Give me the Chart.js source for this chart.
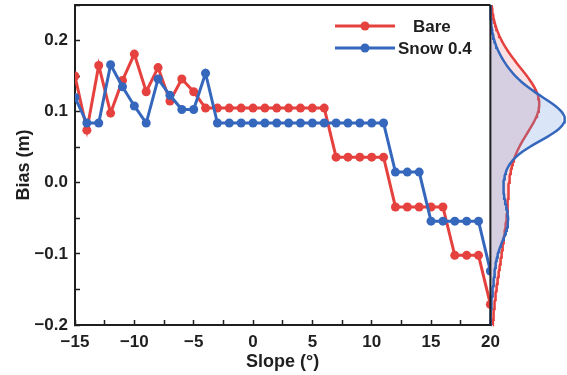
<!DOCTYPE html>
<html>
<head>
<meta charset="utf-8">
<script src="https://cdn.jsdelivr.net/npm/chart.js@4.4.1/dist/chart.umd.min.js"></script>
<style>
  html, body { margin: 0; padding: 0; background: #fff; }
  #wrap { width: 567px; height: 375px; }
</style>
</head>
<body>
<div id="wrap"><canvas id="biasChart" width="567" height="375"></canvas></div>
<script>
// Slope bins (degrees)
const slopes = [-15, -14, -13, -12, -11, -10, -9, -8, -7, -6, -5, -4, -3, -2, -1, 0, 1, 2,
                3, 4, 5, 6, 7, 8, 9, 10, 11, 12, 13, 14, 15, 16, 17, 18, 19, 20];

// Bias (m) per slope bin
const bareBias = [0.150, 0.074, 0.165, 0.098, 0.144, 0.181, 0.128, 0.162, 0.115, 0.146, 0.128, 0.105,
                  0.105, 0.105, 0.105, 0.105, 0.105, 0.105, 0.105, 0.105, 0.105, 0.105,
                  0.036, 0.036, 0.036, 0.036, 0.036,
                  -0.034, -0.034, -0.034, -0.034, -0.034,
                  -0.102, -0.102, -0.102, -0.171];
const snowBias = [0.120, 0.084, 0.084, 0.166, 0.135, 0.108, 0.084, 0.146, 0.123, 0.103, 0.103, 0.154,
                  0.084, 0.084, 0.084, 0.084, 0.084, 0.084, 0.084, 0.084, 0.084, 0.084,
                  0.084, 0.084, 0.084, 0.084, 0.084,
                  0.015, 0.015, 0.015,
                  -0.054, -0.054, -0.054, -0.054, -0.054, -0.124];

const seriesNames = ['Bare', 'Snow 0.4'];
const xTicks = [-15, -10, -5, 0, 5, 10, 15, 20];
const yTicks = [-0.2, -0.1, 0.0, 0.1, 0.2];

const red = '#e5413f';
const blue = '#3567bd';
const ink = '#1f1f1f';

Chart.defaults.font.family = '"Liberation Sans", Arial, sans-serif';
Chart.defaults.font.weight = 'bold';
Chart.defaults.color = ink;

// Gaussian kernel density of a series, sampled along the bias axis
const kde = (values) => {
    const n = values.length;
    const mean = values.reduce((a, b) => a + b, 0) / n;
    const sd = Math.sqrt(values.reduce((a, v) => a + (v - mean) ** 2, 0) / (n - 1));
    const h = 0.9 * sd * Math.pow(n, -0.2);
    const pts = [];
    for (let i = 0; i <= 180; i++) {
        const y = -0.2 + i * 0.0025;
        const d = values.reduce((s, v) => s + Math.exp(-0.5 * ((y - v) / h) ** 2), 0) / (n * h * Math.sqrt(2 * Math.PI));
        pts.push({ x: d, y: y });
    }
    return pts;
};

const bareDensity = kde(bareBias);
const snowDensity = kde(snowBias);
const densityMax = Math.max(...snowDensity.map(p => p.x), ...bareDensity.map(p => p.x)) * 0.97;

const near = (v, list) => list.some(t => Math.abs(t - v) < 1e-6);
const minus = (s) => s.replace('-', '\u2212');

// Top and right edges of the main panel
const framePlugin = {
    id: 'frame',
    afterDatasetsDraw(chart) {
        const { ctx } = chart;
        const x = chart.scales.x;
        const y = chart.scales.y;
        ctx.save();
        ctx.strokeStyle = ink;
        ctx.lineWidth = 2;
        ctx.beginPath();
        ctx.moveTo(x.left - 1, y.top);
        ctx.lineTo(x.right, y.top);
        ctx.moveTo(x.right, y.top);
        ctx.lineTo(x.right, y.bottom + 1);
        ctx.stroke();
        ctx.restore();
    }
};

// Legend drawn inside the plot
const legendPlugin = {
    id: 'insideLegend',
    afterDraw(chart) {
        const { ctx } = chart;
        const rows = [
            { text: seriesNames[0], color: red, y: 26, tx: 413 },
            { text: seriesNames[1], color: blue, y: 48, tx: 398 }
        ];
        ctx.save();
        rows.forEach(r => {
            ctx.strokeStyle = r.color;
            ctx.lineWidth = 3;
            ctx.beginPath();
            ctx.moveTo(335, r.y);
            ctx.lineTo(395, r.y);
            ctx.stroke();
            ctx.fillStyle = r.color;
            ctx.beginPath();
            ctx.arc(365, r.y, 4.5, 0, Math.PI * 2);
            ctx.fill();
            ctx.fillStyle = ink;
            ctx.font = 'bold 17px "Liberation Sans", Arial, sans-serif';
            ctx.textBaseline = 'middle';
            ctx.textAlign = 'left';
            ctx.fillText(r.text, r.tx, r.y + 1);
        });
        ctx.restore();
    }
};

const ctx = document.getElementById('biasChart').getContext('2d');
const chart = new Chart(ctx, {
    type: 'line',
    data: {
        labels: slopes,
        datasets: [
            {
                label: seriesNames[1],
                data: slopes.map((s, i) => ({ x: s, y: snowBias[i] })),
                borderColor: blue,
                backgroundColor: blue,
                borderWidth: 3,
                pointRadius: 4.5,
                pointBorderWidth: 0,
                xAxisID: 'x',
                yAxisID: 'y',
                order: 0
            },
            {
                label: seriesNames[0],
                data: slopes.map((s, i) => ({ x: s, y: bareBias[i] })),
                borderColor: red,
                backgroundColor: red,
                borderWidth: 3,
                pointRadius: 4.5,
                pointBorderWidth: 0,
                xAxisID: 'x',
                yAxisID: 'y',
                order: 1
            },
            {
                label: seriesNames[1] + ' density',
                data: snowDensity,
                indexAxis: 'y',
                borderColor: blue,
                backgroundColor: 'rgba(100, 150, 220, 0.24)',
                borderWidth: 2.5,
                pointRadius: 0,
                fill: 'origin',
                clip: false,
                xAxisID: 'xd',
                yAxisID: 'y',
                order: 2
            },
            {
                label: seriesNames[0] + ' density',
                data: bareDensity,
                indexAxis: 'y',
                borderColor: red,
                backgroundColor: 'rgba(230, 90, 100, 0.18)',
                borderWidth: 2.5,
                pointRadius: 0,
                fill: 'origin',
                clip: false,
                xAxisID: 'xd',
                yAxisID: 'y',
                order: 3
            }
        ]
    },
    options: {
        responsive: false,
        animation: false,
        events: [],
        layout: { padding: { top: 5, left: 4, right: 0, bottom: 0 } },
        plugins: { legend: { display: false }, tooltip: { enabled: false } },
        scales: {
            x: {
                type: 'linear',
                position: 'bottom',
                stack: 'row',
                stackWeight: 5.76,
                min: -15,
                max: 20,
                afterFit: (s) => { s.paddingRight = 0; s.paddingLeft = 0; s.height = 50; },
                ticks: {
                    stepSize: 2.5,
                    autoSkip: false,
                    maxRotation: 0,
                    padding: 12,
                    color: ink,
                    font: { size: 17, weight: 'bold' },
                    callback: (v) => near(v, xTicks) ? minus(String(Math.round(v))) : ''
                },
                grid: { drawOnChartArea: false, tickLength: -5, tickWidth: 1.5, color: ink },
                border: { width: 2, color: ink },
                title: {
                    display: true,
                    text: 'Slope (°)',
                    color: ink,
                    font: { size: 18, weight: 'bold' },
                    padding: { top: 2, bottom: 2 }
                }
            },
            xd: {
                type: 'linear',
                position: 'bottom',
                stack: 'row',
                stackWeight: 1,
                min: 0,
                max: densityMax,
                ticks: { display: false },
                grid: { display: false },
                border: { display: false }
            },
            y: {
                type: 'linear',
                position: 'left',
                min: -0.2,
                max: 0.25,
                afterFit: (s) => { s.paddingTop = 0; s.width = 71; },
                ticks: {
                    stepSize: 0.05,
                    autoSkip: false,
                    padding: 12,
                    color: ink,
                    font: { size: 17, weight: 'bold' },
                    callback: (v) => near(v, yTicks) ? minus(v.toFixed(1)) : ''
                },
                grid: { drawOnChartArea: false, tickLength: -5, tickWidth: 1.5, color: ink },
                border: { width: 2, color: ink },
                title: {
                    display: true,
                    text: 'Bias (m)',
                    color: ink,
                    font: { size: 18, weight: 'bold' },
                    padding: { top: 9, bottom: 0 }
                }
            }
        }
    },
    plugins: [framePlugin, legendPlugin]
});
</script>
</body>
</html>
